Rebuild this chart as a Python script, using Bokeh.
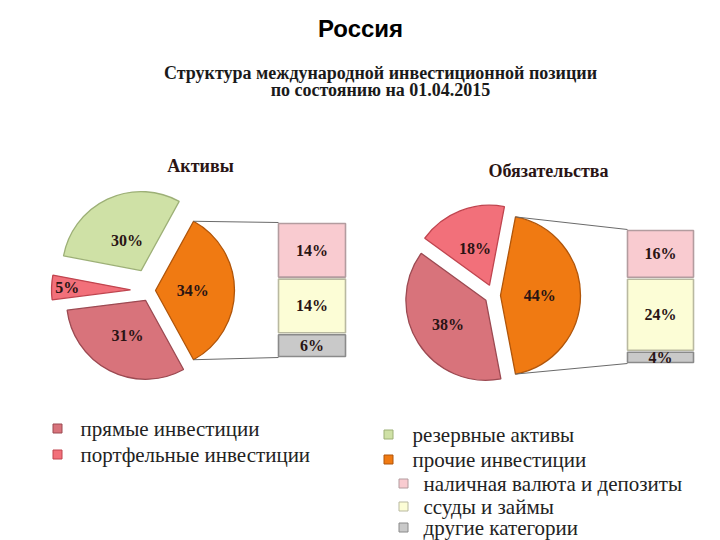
import numpy as np
from bokeh.plotting import figure
from bokeh.models import Range1d
from bokeh.core.properties import value
from bokeh.embed import file_html
from bokeh.resources import INLINE

W, H = 720, 540

# ---------------- data ----------------
title = "Россия"
subtitle_1 = "Структура международной инвестиционной позиции"
subtitle_2 = "по состоянию на 01.04.2015"
pie_titles = ["Активы", "Обязательства"]

# slices in counter-clockwise order, starting with the split-off slice
main_categories = ["прочие инвестиции", "резервные активы",
                   "портфельные инвестиции", "прямые инвестиции"]
assets_main = [34, 30, 5, 31]
liabilities_main = [44, 0, 18, 38]

other_categories = ["наличная валюта и депозиты", "ссуды и займы", "другие категории"]
assets_other = [14, 14, 6]
liabilities_other = [16, 24, 4]

legend_left = ["прямые инвестиции", "портфельные инвестиции"]
legend_right = ["резервные активы", "прочие инвестиции"]

# ---------------- styles ----------------
main_fill = {"прочие инвестиции": "#f07a12", "резервные активы": "#cfe1a6",
             "портфельные инвестиции": "#f2707a", "прямые инвестиции": "#d8737b"}
main_line = {"прочие инвестиции": "#b0550a", "резервные активы": "#9db077",
             "портфельные инвестиции": "#c0454f", "прямые инвестиции": "#9c4a52"}
other_fill = {"наличная валюта и депозиты": "#f9cbd0", "ссуды и займы": "#fcfdd6",
              "другие категории": "#c9c9c9"}
other_line = {"наличная валюта и депозиты": "#b39c9f", "ссуды и займы": "#b9b9a0",
              "другие категории": "#8a8a8a"}
TXT = "#2a1414"
SERIF = value("Liberation Serif")

p = figure(width=W, height=H, x_range=Range1d(0, W), y_range=Range1d(0, H),
           output_backend="svg", toolbar_location=None, min_border=0,
           x_axis_location=None, y_axis_location=None)
p.grid.visible = False
p.outline_line_color = None
p.background_fill_color = "white"


def sy(v):
    return H - v


def label(x, y, t, size, bold=True, font=SERIF, color=TXT, align="center"):
    p.text(x=[x], y=[sy(y)], text=[t], text_align=align, text_baseline="middle",
           text_font=font, text_font_size=size,
           text_font_style="bold" if bold else "normal", text_color=color)


label(360, 28, title, "24px", font=value("Liberation Sans"), color="black")
label(380, 72, subtitle_1, "18px", color="#1a1a1a")
label(380, 89, subtitle_2, "18px", color="#1a1a1a")

pies = [
    dict(vals=assets_main, other=assets_other, title=pie_titles[0], tpos=(200, 165),
         c=(150, 290), r=79, explode=[5, 22, 20, 11], lfrac=[0.47, 0.42, 0.8, 0.5],
         bar=(278, 345, 222, 357)),
    dict(vals=liabilities_main, other=liabilities_other, title=pie_titles[1], tpos=(548, 170),
         c=(493, 295), r=80, explode=[7, 0, 11, 9], lfrac=[0.49, 0.4, 0.49, 0.56],
         bar=(627, 693, 229, 363)),
]

for pie in pies:
    vals = pie["vals"]
    total = float(sum(vals))
    cx, cy = pie["c"][0], sy(pie["c"][1])
    r = pie["r"]
    label(pie["tpos"][0], pie["tpos"][1], pie["title"], "18px")
    a = -vals[0] / total * np.pi
    split_edges = None
    for i, (cat, v) in enumerate(zip(main_categories, vals)):
        if v <= 0:
            continue
        a0 = a
        a1 = a + v / total * 2 * np.pi
        a = a1
        mid = (a0 + a1) / 2
        d = pie["explode"][i]
        x = cx + d * np.cos(mid)
        y = cy + d * np.sin(mid)
        p.wedge(x=[x], y=[y], radius=r, start_angle=a0, end_angle=a1,
                fill_color=main_fill[cat], line_color=main_line[cat], line_width=1.3)
        lr = pie["lfrac"][i] * r
        p.text(x=[x + lr * np.cos(mid)], y=[y + lr * np.sin(mid)], text=[f"{v}%"],
               text_align="center", text_baseline="middle", text_font=SERIF,
               text_font_size="16px", text_font_style="bold", text_color=TXT)
        if i == 0:
            split_edges = ((x + r * np.cos(a1), y + r * np.sin(a1)),
                           (x + r * np.cos(a0), y + r * np.sin(a0)))

    bx0, bx1, btop, bbot = pie["bar"]
    (tx, ty), (bx, by) = split_edges
    p.line(x=[tx, bx0], y=[ty, sy(btop)], line_color="#6a6a6a", line_width=1)
    p.line(x=[bx, bx0], y=[by, sy(bbot)], line_color="#6a6a6a", line_width=1)

    otot = float(sum(pie["other"]))
    span = bbot - btop
    cur = btop
    for cat, v in zip(other_categories, pie["other"]):
        h = v / otot * span
        top, bot = cur, cur + h
        cur = bot
        p.quad(left=[bx0], right=[bx1], top=[sy(top + 1)], bottom=[sy(bot - 1)],
               fill_color=other_fill[cat], line_color=other_line[cat], line_width=1.6)
        p.text(x=[(bx0 + bx1) / 2], y=[sy((top + bot) / 2)], text=[f"{v}%"],
               text_align="center", text_baseline="middle", text_font=SERIF,
               text_font_size="16px", text_font_style="bold", text_color=TXT)


# ---------------- legend ----------------
def legend_item(sx, tx, y, fill, line, text):
    p.rect(x=[sx], y=[sy(y)], width=9, height=9, fill_color=fill,
           line_color=line, line_width=1)
    label(tx, y, text, "21px", bold=False, color="#222222", align="left")


for t, y in zip(legend_left, [428, 454]):
    legend_item(57, 80, y, main_fill[t], main_line[t], t)
for t, y in zip(legend_right, [434, 459]):
    legend_item(388, 412, y, main_fill[t], main_line[t], t)
for t, y in zip(other_categories, [483, 506, 527]):
    legend_item(403, 423, y, other_fill[t], other_line[t], t)

open("out.html", "w").write(file_html(p, INLINE))
